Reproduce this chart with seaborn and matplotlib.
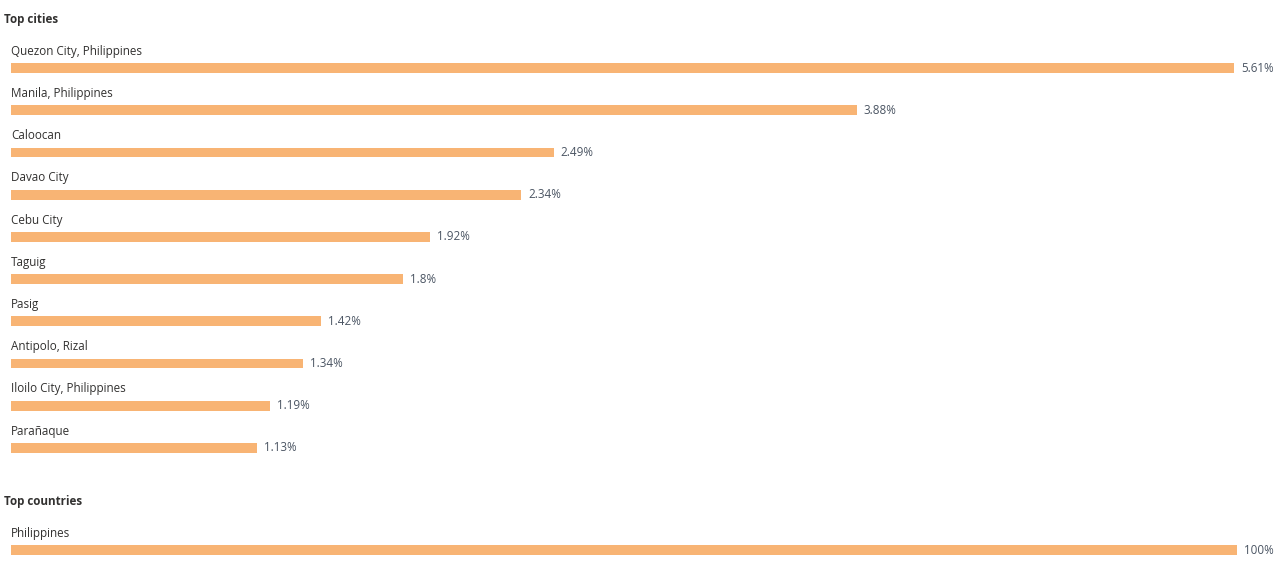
import pandas as pd
import seaborn as sns
import matplotlib.pyplot as plt

# data
cities = ['Quezon City, Philippines', 'Manila, Philippines', 'Caloocan', 'Davao City',
          'Cebu City', 'Taguig', 'Pasig', 'Antipolo, Rizal', 'Iloilo City, Philippines',
          'Parañaque']
city_share = [5.61, 3.88, 2.49, 2.34, 1.92, 1.8, 1.42, 1.34, 1.19, 1.13]

countries = ['Philippines']
country_share = [100]

sns.set_theme(style="white")
plt.rcParams['font.family'] = ['Open Sans', 'DejaVu Sans']

bar_color = '#F8B474'
label_color = '#323130'
value_color = '#4b5563'
fs = 8.4

W, H = 1280, 574
fig = plt.figure(figsize=(W / 100, H / 100), dpi=100)
fig.patch.set_facecolor('white')


def px_axes(x0, x1, y_top, y_bot):
    return fig.add_axes([x0 / W, 1 - y_bot / H, (x1 - x0) / W, (y_bot - y_top) / H])


def draw_section(ax, names, vals, xmax):
    df = pd.DataFrame({'name': names, 'share': vals})
    sns.barplot(data=df, x='share', y='name', orient='h', color=bar_color,
                width=0.23, saturation=1, linewidth=0, ax=ax)
    ax.set_xlim(0, xmax)
    ax.set_ylim(len(names) - 0.5, -0.5)
    for i, (n, v) in enumerate(zip(names, vals)):
        ax.text(0, i - 0.4, n, ha='left', va='center', fontsize=fs, color=label_color)
        ax.annotate(f'{v:g}%', xy=(v, i), xytext=(5, 0), textcoords='offset points',
                    ha='left', va='center', fontsize=fs, color=value_color,
                    annotation_clip=False)
    ax.axis('off')


step = 42.2
ax1 = px_axes(11, 1234, 68 - step / 2, 448 + step / 2)
draw_section(ax1, cities, city_share, max(city_share))

ax2 = px_axes(11, 1237, 550 - step / 2, 550 + step / 2)
draw_section(ax2, countries, country_share, 100)

fig.text(4 / W, 1 - 20 / H, 'Top cities', fontsize=fs, fontweight='bold',
         color=label_color, ha='left', va='center')
fig.text(4 / W, 1 - 502 / H, 'Top countries', fontsize=fs, fontweight='bold',
         color=label_color, ha='left', va='center')

plt.savefig('out.png', dpi=100, facecolor='white')
